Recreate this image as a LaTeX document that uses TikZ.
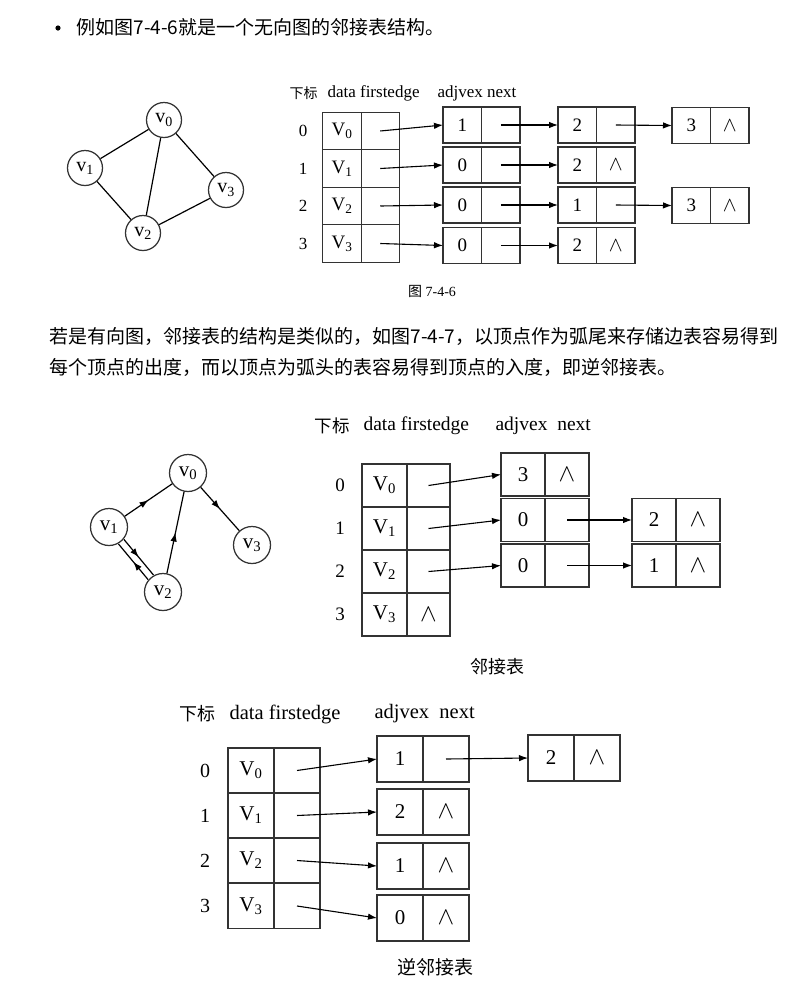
\documentclass[tikz,border=0pt]{standalone}
\usepackage{fontspec}
\setmainfont{Liberation Serif}
\newfontfamily\cjk{Noto Sans CJK SC}
\usetikzlibrary{positioning,arrows.meta,decorations.markings}

\newcommand{\fsz}[1]{\fontsize{#1}{#1}\selectfont}
\newcommand{\nullp}{\scalebox{1.2}{$\wedge$}}
% one edge node: name, west point, adjvex, next
\newcommand{\listnode}[4]{%
  \node[cell, anchor=west] (#1a) at (#2) {#3};
  \node[cell, right=0pt of #1a] (#1b) {#4};}

\tikzset{
  cell/.style={draw=black!80, line width=1.25pt, inner sep=0pt, outer sep=0pt},
  vtx/.style={circle, draw=black!80, line width=1.25pt, inner sep=0pt},
  idx/.style={inner sep=0pt},
  link/.style={-{Latex[length=9pt,width=6.5pt]}, line width=1.1pt},
  midarrow/.style={line width=1.2pt, postaction={decorate}, decoration={markings,
    mark=at position 0.5 with {\arrow{Latex[length=9pt,width=6.5pt]}}}},
}

\begin{document}
\begin{tikzpicture}[x=1pt, y=-1pt]
\useasboundingbox (0,0) rectangle (808,986);

% text
\fill (58,28) circle (2.6);
\node[anchor=west, font=\cjk\fsz{19}] (intro) at (73,27) {例如图7-4-6就是一个无向图的邻接表结构。};
\node[anchor=west, font=\cjk\fsz{19}] (para1) at (46,336) {若是有向图，邻接表的结构是类似的，如图7-4-7，以顶点作为弧尾来存储边表容易得到};
\node[anchor=west, font=\cjk\fsz{19}] (para2) at (46,367) {每个顶点的出度，而以顶点为弧头的表容易得到顶点的入度，即逆邻接表。};

% undirected graph
\node[vtx, minimum size=35, font=\fsz{20}] (u0) at (164,120) {v\textsubscript{0}};
\node[vtx, minimum size=35, font=\fsz{20}] (u1) at (85,168) {v\textsubscript{1}};
\node[vtx, minimum size=35, font=\fsz{20}] (u2) at (143,233) {v\textsubscript{2}};
\node[vtx, minimum size=35, font=\fsz{20}] (u3) at (226,190) {v\textsubscript{3}};
\draw[line width=1.2pt] (u0) -- (u1) (u0) -- (u2) (u0) -- (u3) (u1) -- (u2) (u2) -- (u3);

% table 7-4-6
\node[anchor=west, font=\cjk\fsz{14}] (h1) at (286,93) {下标};
\node[anchor=west, font=\fsz{17}] (h1b) at (324,93) {data firstedge};
\node[anchor=west, font=\fsz{17}] (h1c) at (434,93) {adjvex next};
\foreach \i/\y in {0/131,1/168.5,2/206,3/243.5} {
  \node[idx, font=\fsz{17}] (p\i) at (303,\y) {\i};
  \node[cell, minimum width=38.5, minimum height=37.5, font=\fsz{19}] (pd\i) at (342,\y) {V\textsubscript{\i}};
  \node[cell, minimum width=38, minimum height=37.5, right=0pt of pd\i] (pf\i) {};
}
\begin{scope}[cell/.append style={minimum width=38.5, minimum height=36, font=\fsz{19}}]
  \listnode{p01}{443,125}{1}{}
  \listnode{p02}{558,125}{2}{}
  \listnode{p03}{672,125.5}{3}{\nullp}
  \listnode{p11}{443,165}{0}{}
  \listnode{p12}{558,165}{2}{\nullp}
  \listnode{p21}{443,205}{0}{}
  \listnode{p22}{558,205}{1}{}
  \listnode{p23}{672,205.5}{3}{\nullp}
  \listnode{p31}{443,245.5}{0}{}
  \listnode{p32}{558,245.5}{2}{\nullp}
\end{scope}
\draw[link] (pf0.center) -- (p01a.west);
\draw[link] (p01b.center) -- (p02a.west);
\draw[link] (p02b.center) -- (p03a.west);
\draw[link] (pf1.center) -- (p11a.west);
\draw[link] (p11b.center) -- (p12a.west);
\draw[link] (pf2.center) -- (p21a.west);
\draw[link] (p21b.center) -- (p22a.west);
\draw[link] (p22b.center) -- (p23a.west);
\draw[link] (pf3.center) -- (p31a.west);
\draw[link] (p31b.center) -- (p32a.west);
\node[font=\fsz{14}] (cap1) at (432,291) {{\cjk 图} 7-4-6};

% directed graph
\node[vtx, minimum size=37, font=\fsz{21}] (w0) at (188,473) {v\textsubscript{0}};
\node[vtx, minimum size=37, font=\fsz{21}] (w1) at (109,527) {v\textsubscript{1}};
\node[vtx, minimum size=37, font=\fsz{21}] (w2) at (163,592) {v\textsubscript{2}};
\node[vtx, minimum size=37, font=\fsz{21}] (w3) at (252,545) {v\textsubscript{3}};
\draw[midarrow] (w1) -- (w0);
\draw[midarrow] (w0) -- (w3);
\draw[midarrow] (w2) -- (w0);
\draw[midarrow, transform canvas={shift={(2.7,-2.3)}}] (w1) -- (w2);
\draw[midarrow, transform canvas={shift={(-2.7,2.3)}}] (w2) -- (w1);

% adjacency list
\node[anchor=west, font=\cjk\fsz{17.5}] (h2) at (311,426) {下标};
\node[anchor=west, font=\fsz{19.5}] (h2b) at (360,426) {data firstedge};
\node[anchor=west, font=\fsz{19.5}] (h2c) at (492,426) {adjvex\ \ next};
\foreach \i/\y/\n in {0/485.5/{},1/528.5/{},2/571.5/{},3/614.5/\nullp} {
  \node[idx, font=\fsz{19}] (q\i) at (340,\y) {\i};
  \node[cell, minimum width=45, minimum height=43, font=\fsz{21}] (qd\i) at (384.5,\y) {V\textsubscript{\i}};
  \node[cell, minimum width=43, minimum height=43, font=\fsz{21}, right=0pt of qd\i] (qf\i) {\n};
}
\begin{scope}[cell/.append style={minimum width=44, minimum height=43, font=\fsz{21}}]
  \listnode{q01}{501,474.5}{3}{\nullp}
  \listnode{q11}{501,520}{0}{}
  \listnode{q12}{632,520}{2}{\nullp}
  \listnode{q21}{501,565.5}{0}{}
  \listnode{q22}{632,565.5}{1}{\nullp}
\end{scope}
\draw[link] (qf0.center) -- (q01a.west);
\draw[link] (qf1.center) -- (q11a.west);
\draw[link] (q11b.center) -- (q12a.west);
\draw[link] (qf2.center) -- (q21a.west);
\draw[link] (q21b.center) -- (q22a.west);
\node[font=\cjk\fsz{18}] (cap2) at (497,667) {邻接表};

% inverse adjacency list
\node[anchor=west, font=\cjk\fsz{18}] (h3) at (176,714) {下标};
\node[anchor=west, font=\fsz{20.5}] (h3b) at (226,714) {data firstedge};
\node[anchor=west, font=\fsz{20.5}] (h3c) at (371,714) {adjvex\ \ next};
\foreach \i/\y in {0/770.5,1/815.5,2/860.5,3/906} {
  \node[idx, font=\fsz{20}] (r\i) at (205,\y) {\i};
  \node[cell, minimum width=46, minimum height=45, font=\fsz{21}] (rd\i) at (251,\y) {V\textsubscript{\i}};
  \node[cell, minimum width=46, minimum height=45, right=0pt of rd\i] (rf\i) {};
}
\begin{scope}[cell/.append style={minimum width=46, minimum height=46, font=\fsz{21}}]
  \listnode{r01}{377,759}{1}{}
  \listnode{r02}{528,758}{2}{\nullp}
  \listnode{r11}{377,812}{2}{\nullp}
  \listnode{r21}{377,866}{1}{\nullp}
  \listnode{r31}{377,918}{0}{\nullp}
\end{scope}
\draw[link] (rf0.center) -- (r01a.west);
\draw[link] (r01b.center) -- (r02a.west);
\draw[link] (rf1.center) -- (r11a.west);
\draw[link] (rf2.center) -- (r21a.west);
\draw[link] (rf3.center) -- (r31a.west);
\node[font=\cjk\fsz{19}] (cap3) at (435,967) {逆邻接表};
\end{tikzpicture}
\end{document}
